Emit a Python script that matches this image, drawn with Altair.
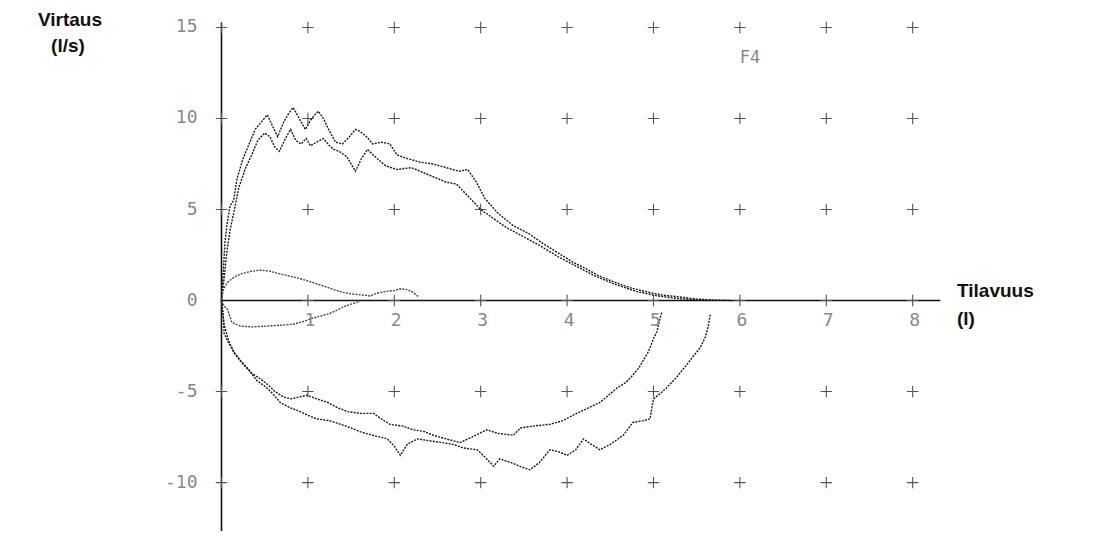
import altair as alt
import pandas as pd

# ---- data (volume l, flow l/s) ----
exp_a_x = [0, 0.02, 0.04, 0.07, 0.1, 0.14, 0.18, 0.25, 0.32, 0.39, 0.46, 0.53, 0.6, 0.65, 0.72, 0.78,
           0.83, 0.9, 0.97, 1.03, 1.08, 1.12, 1.18, 1.25, 1.32, 1.4, 1.48, 1.55, 1.6, 1.68, 1.75, 1.85,
           1.95, 2.03, 2.15, 2.3, 2.45, 2.6, 2.75, 2.85, 2.95, 3.05, 3.2, 3.38, 3.55, 3.7, 3.9, 4.07,
           4.2, 4.35, 4.5, 4.73, 4.9, 5.1, 5.3, 5.5, 5.7, 5.9]
exp_a_y = [0, 1.5, 3.2, 4.4, 5.2, 5.5, 6.7, 7.8, 8.6, 9.4, 9.8, 10.2, 9.5, 9.0, 9.8, 10.3,
           10.6, 10.0, 9.4, 9.9, 10.2, 10.4, 10.0, 9.3, 8.7, 8.6, 9.0, 9.4, 9.3, 9.0, 8.6, 8.7,
           8.6, 8.0, 7.8, 7.6, 7.5, 7.3, 7.1, 7.2, 6.5, 5.6, 4.8, 4.1, 3.7, 3.2, 2.6, 2.1,
           1.8, 1.4, 1.1, 0.7, 0.5, 0.3, 0.2, 0.08, 0.03, 0.0]

exp_b_x = [0, 0.03, 0.06, 0.1, 0.15, 0.2, 0.28, 0.35, 0.42, 0.5, 0.56, 0.62, 0.67, 0.74, 0.8, 0.86,
           0.92, 0.98, 1.03, 1.1, 1.18, 1.25, 1.3, 1.36, 1.45, 1.55, 1.62, 1.69, 1.8, 1.9, 2.03, 2.2,
           2.35, 2.45, 2.6, 2.72, 2.84, 3.0, 3.15, 3.3, 3.5, 3.69, 3.9, 4.1, 4.3, 4.55, 4.8, 5.05,
           5.3, 5.6]
exp_b_y = [0, 1.2, 2.6, 3.9, 5.0, 6.2, 7.3, 8.0, 8.8, 9.2, 9.0, 8.4, 8.2, 8.9, 9.4, 8.8,
           8.6, 8.9, 8.5, 8.7, 8.9, 8.5, 8.3, 8.2, 7.9, 7.1, 7.8, 8.3, 7.8, 7.4, 7.2, 7.3,
           7.0, 6.8, 6.5, 6.4, 5.8, 5.0, 4.5, 4.0, 3.5, 3.0, 2.4, 1.9, 1.4, 0.9, 0.5, 0.25,
           0.1, 0.0]

insp_a_x = [0, 0.02, 0.03, 0.08, 0.14, 0.22, 0.3, 0.41, 0.5, 0.57, 0.68, 0.8, 0.91, 1.0, 1.1, 1.25,
            1.38, 1.5, 1.6, 1.75, 1.92, 2.0, 2.07, 2.15, 2.27, 2.4, 2.55, 2.68, 2.8, 2.96, 3.05, 3.15,
            3.22, 3.35, 3.45, 3.57, 3.68, 3.8, 3.9, 4.0, 4.1, 4.19, 4.28, 4.38, 4.5, 4.65, 4.76, 4.88,
            4.96, 5.0, 5.08, 5.15, 5.27, 5.39, 5.47, 5.54, 5.6, 5.63, 5.66]
insp_a_y = [0, -0.8, -1.8, -2.3, -2.8, -3.3, -3.7, -4.4, -4.7, -5.0, -5.6, -5.9, -6.1, -6.3, -6.5, -6.6,
            -6.8, -7.0, -7.2, -7.4, -7.6, -8.0, -8.5, -7.9, -7.6, -7.7, -7.8, -7.9, -8.1, -8.2, -8.6, -9.1,
            -8.7, -8.9, -9.1, -9.3, -8.9, -8.2, -8.3, -8.5, -8.2, -7.6, -7.9, -8.2, -7.9, -7.4, -6.7, -6.6,
            -6.5, -5.4, -5.1, -4.8, -4.2, -3.5, -3.0, -2.6, -2.0, -1.5, -0.7]

insp_b_x = [0, 0.03, 0.08, 0.15, 0.25, 0.35, 0.45, 0.53, 0.62, 0.72, 0.8, 0.9, 0.99, 1.1, 1.23, 1.35,
            1.46, 1.6, 1.76, 1.85, 1.95, 2.1, 2.22, 2.35, 2.45, 2.6, 2.76, 2.9, 3.07, 3.2, 3.38, 3.46,
            3.6, 3.8, 3.95, 4.07, 4.2, 4.38, 4.48, 4.58, 4.68, 4.76, 4.83, 4.88, 4.93, 4.96, 5.0, 5.04,
            5.08, 5.1]
insp_b_y = [0, -1.3, -2.2, -2.9, -3.5, -4.0, -4.3, -4.6, -5.0, -5.3, -5.4, -5.3, -5.2, -5.4, -5.6, -5.9,
            -6.1, -6.2, -6.2, -6.5, -6.8, -6.9, -7.1, -7.2, -7.4, -7.6, -7.8, -7.5, -7.1, -7.3, -7.4, -7.0,
            -6.9, -6.8, -6.6, -6.3, -6.0, -5.6, -5.2, -4.8, -4.5, -4.1, -3.7, -3.3, -2.9, -2.6, -2.1, -1.7,
            -0.9, -0.6]

tidal_up_x = [0, 0.02, 0.07, 0.15, 0.25, 0.34, 0.45, 0.55, 0.65, 0.78, 0.91, 1.05, 1.18, 1.3, 1.41, 1.52,
              1.64, 1.72, 1.8, 1.9, 2.0, 2.07, 2.15, 2.22, 2.28]
tidal_up_y = [0, 0.6, 1.0, 1.3, 1.5, 1.6, 1.67, 1.62, 1.5, 1.35, 1.2, 1.0, 0.8, 0.6, 0.45, 0.35,
              0.3, 0.25, 0.4, 0.5, 0.55, 0.65, 0.6, 0.45, 0.2]

tidal_lo_x = [0, 0.03, 0.07, 0.12, 0.22, 0.35, 0.53, 0.7, 0.83, 0.95, 1.03, 1.15, 1.26, 1.35, 1.41, 1.5, 1.6]
tidal_lo_y = [0, -0.3, -0.5, -1.2, -1.4, -1.45, -1.4, -1.35, -1.3, -1.15, -1.0, -0.85, -0.7, -0.5, -0.35,
              -0.2, -0.05]

x_ticks = [1, 2, 3, 4, 5, 6, 7, 8]
x_tick_labels = ["1", "2", "3", "4", "5", "6", "7", "8"]
y_ticks = [15, 10, 5, 0, -5, -10]
y_tick_labels = ["15", "10", "5", "0", "-5", "-10"]
grid_x = [0, 1, 2, 3, 4, 5, 6, 7, 8]
grid_y = [-10, -5, 0, 5, 10, 15]
x_axis_extent = [0, 8.32]
y_axis_extent = [-12.66, 15.25]

# ---- tables ----
traces = [
    ("exp_a", exp_a_x, exp_a_y, "main"),
    ("exp_b", exp_b_x, exp_b_y, "main"),
    ("insp_a", insp_a_x, insp_a_y, "main"),
    ("insp_b", insp_b_x, insp_b_y, "main"),
    ("tidal_up", tidal_up_x, tidal_up_y, "tidal"),
    ("tidal_lo", tidal_lo_x, tidal_lo_y, "tidal"),
]
rows = []
for name, xs_, ys_, kind in traces:
    for i, (xv, yv) in enumerate(zip(xs_, ys_)):
        rows.append({"trace": name, "i": i, "x": xv, "y": yv, "kind": kind})
curves = pd.DataFrame(rows)

crosses = pd.DataFrame([{"x": gx, "y": gy} for gx in grid_x for gy in grid_y if not (gx == 0 and gy == 0)])
xlab = pd.DataFrame({"x": x_ticks, "y": [0] * len(x_ticks), "t": x_tick_labels})
ylab = pd.DataFrame({"x": [0] * len(y_ticks), "y": y_ticks, "t": y_tick_labels})
axes = pd.DataFrame({
    "x": [x_axis_extent[0], 0], "x2": [x_axis_extent[1], 0],
    "y": [0, y_axis_extent[0]], "y2": [0, y_axis_extent[1]],
})

W, H = 1090, 523
xs = alt.Scale(domain=[-2.471, 10.145], nice=False, zero=False)
ys = alt.Scale(domain=[-12.66, 16.07], nice=False, zero=False)
X = alt.X("x:Q", scale=xs, axis=None)
Y = alt.Y("y:Q", scale=ys, axis=None)

axis_lines = alt.Chart(axes).mark_rule(color="#111", strokeWidth=1.6).encode(
    x=X, y=Y, x2="x2:Q", y2="y2:Q")

cross_marks = alt.Chart(crosses).mark_point(
    shape="M-1,0H1M0,-1V1", filled=False, size=130, strokeWidth=1.1, color="#555", opacity=1
).encode(x=X, y=Y)

lines = alt.Chart(curves).mark_line(
    strokeDash=[2, 1.2], strokeWidth=1.4, interpolate="linear"
).encode(
    x=X, y=Y, detail="trace:N", order="i:Q",
    color=alt.Color("kind:N", scale=alt.Scale(domain=["main", "tidal"], range=["#1a1a1a", "#444"]),
                    legend=None),
)

x_labels = alt.Chart(xlab).mark_text(
    font="DejaVu Sans Mono", fontSize=18, color="#888", dy=20, dx=2, baseline="middle", align="center"
).encode(x=X, y=Y, text="t:N")

y_labels = alt.Chart(ylab).mark_text(
    font="DejaVu Sans Mono", fontSize=18, color="#888", dx=-24, baseline="middle", align="right"
).encode(x=X, y=Y, text="t:N")

def label(txt, px, py, align="center", size=19, weight="bold", color="#111", font="Liberation Sans"):
    return alt.Chart(pd.DataFrame({"t": [txt]})).mark_text(
        font=font, fontSize=size, fontWeight=weight, color=color, align=align, baseline="middle"
    ).encode(x=alt.value(px), y=alt.value(py), text="t:N")

titles = [
    label("Virtaus", 62, 12),
    label("(l/s)", 60, 38),
    label("Tilavuus", 949, 283, align="left"),
    label("(l)", 949, 311, align="left"),
    label("F4", 742, 50, size=17, weight="normal", color="#888", font="DejaVu Sans Mono"),
]

chart = alt.layer(axis_lines, cross_marks, lines, x_labels, y_labels, *titles).properties(
    width=W, height=H, padding=0, autosize=alt.AutoSizeParams(type="none"), background="white"
).configure_view(stroke=None)

chart.save("out.html", embed_options={"renderer": "svg", "actions": False})
